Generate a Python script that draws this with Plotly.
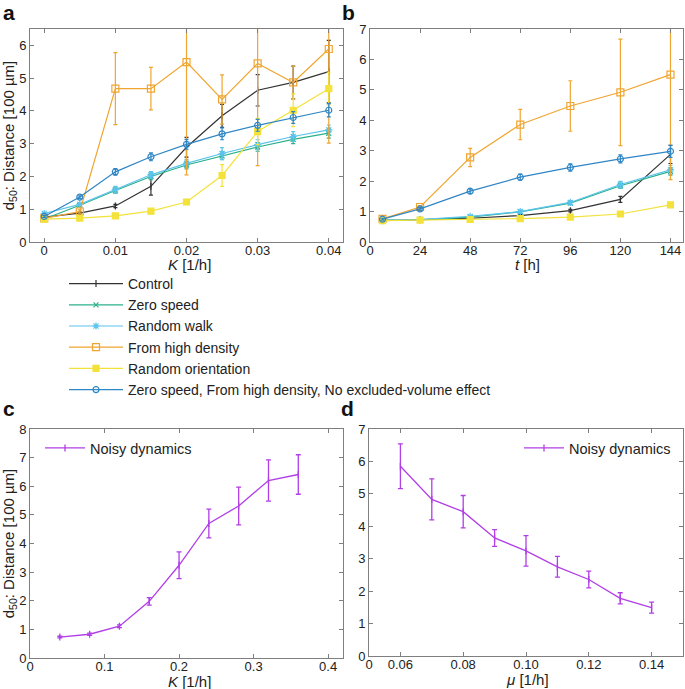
import plotly.graph_objects as go

# ---------------- data ----------------
K_a = [0, 0.005, 0.01, 0.015, 0.02, 0.025, 0.03, 0.035, 0.04]
t_b = [6, 24, 48, 72, 96, 120, 144]

series_names = ["Control", "Zero speed", "Random walk", "From high density",
                "Random orientation",
                "Zero speed, From high density, No excluded-volume effect"]

a_control = [0.76, 0.88, 1.10, 1.70, 2.89, 3.85, 4.63, 4.87, 5.20]
a_control_err = [0.03, 0.03, 0.05, 0.27, 0.30, 0.35, 0.48, 0.50, 0.95]
a_zero = [0.70, 1.12, 1.57, 2.00, 2.35, 2.63, 2.90, 3.13, 3.32]
a_zero_err = [0.03, 0.04, 0.08, 0.10, 0.12, 0.12, 0.13, 0.13, 0.15]
a_rw = [0.87, 1.15, 1.60, 2.05, 2.40, 2.70, 2.97, 3.22, 3.42]
a_rw_err = [0.03, 0.04, 0.10, 0.10, 0.12, 0.18, 0.15, 0.15, 0.15]
a_high = [0.72, 0.93, 4.68, 4.68, 5.49, 4.35, 5.45, 4.87, 5.89]
a_high_err = [0.03, 0.05, 1.10, 0.65, 3.44, 0.75, 3.12, 0.50, 2.87]
a_orient = [0.70, 0.73, 0.80, 0.94, 1.22, 2.03, 3.37, 4.02, 4.68]
a_orient_err = [0.02, 0.02, 0.03, 0.04, 0.06, 0.33, 0.40, 0.50, 0.50]
a_noexcl = [0.78, 1.37, 2.14, 2.60, 2.98, 3.30, 3.56, 3.80, 4.02]
a_noexcl_err = [0.03, 0.04, 0.10, 0.12, 0.15, 0.18, 0.18, 0.18, 0.20]

b_control = [0.70, 0.73, 0.78, 0.87, 1.03, 1.40, 2.88]
b_control_err = [0.02, 0.02, 0.02, 0.03, 0.04, 0.10, 0.30]
b_zero = [0.72, 0.73, 0.82, 0.99, 1.28, 1.85, 2.32]
b_zero_err = [0.02, 0.02, 0.03, 0.04, 0.05, 0.08, 0.12]
b_rw = [0.73, 0.74, 0.84, 1.00, 1.30, 1.89, 2.37]
b_rw_err = [0.02, 0.02, 0.03, 0.04, 0.06, 0.10, 0.15]
b_high = [0.76, 1.15, 2.78, 3.86, 4.47, 4.92, 5.50]
b_high_err = [0.03, 0.05, 0.30, 0.50, 0.83, 1.75, 3.45]
b_orient = [0.70, 0.72, 0.74, 0.77, 0.82, 0.92, 1.22]
b_orient_err = [0.02, 0.02, 0.02, 0.02, 0.03, 0.03, 0.05]
b_noexcl = [0.75, 1.09, 1.67, 2.13, 2.45, 2.73, 2.98]
b_noexcl_err = [0.03, 0.04, 0.07, 0.10, 0.12, 0.13, 0.20]

K_c = [0.04, 0.08, 0.12, 0.16, 0.20, 0.24, 0.28, 0.32, 0.36]
c_noisy = [0.73, 0.83, 1.11, 1.98, 3.24, 4.70, 5.31, 6.20, 6.41]
c_noisy_err = [0.03, 0.04, 0.05, 0.13, 0.47, 0.50, 0.66, 0.72, 0.69]

mu_d = [0.06, 0.07, 0.08, 0.09, 0.10, 0.11, 0.12, 0.13, 0.14]
d_noisy = [5.85, 4.83, 4.45, 3.64, 3.24, 2.75, 2.36, 1.78, 1.49]
d_noisy_err = [0.69, 0.63, 0.50, 0.26, 0.47, 0.32, 0.26, 0.17, 0.17]

ticks_d_vals = [0.05, 0.06, 0.08, 0.10, 0.12, 0.14]
ticks_d_text = ["0", "0.06", "0.08", "0.10", "0.12", "0.14"]

# ---------------- styles ----------------
colors = ["#333333", "#2bb08a", "#5cc3ec", "#f0a531", "#f3e23a", "#2f86c4"]
symbols = ["line-ns-open", "x-thin-open", "asterisk-open", "square-open",
           "square", "circle-open"]
msizes = [5, 5, 6, 7, 6, 6]
purple = "#b13ee6"
FONT = "Liberation Sans, Arial, sans-serif"
AX = "#7f7f7f"

fig = go.Figure()

a_sets = [(a_control, a_control_err), (a_zero, a_zero_err), (a_rw, a_rw_err),
          (a_high, a_high_err), (a_orient, a_orient_err), (a_noexcl, a_noexcl_err)]
b_sets = [(b_control, b_control_err), (b_zero, b_zero_err), (b_rw, b_rw_err),
          (b_high, b_high_err), (b_orient, b_orient_err), (b_noexcl, b_noexcl_err)]

for i, (ys, es) in enumerate(a_sets):
    fig.add_trace(go.Scatter(
        x=K_a, y=ys, mode="lines+markers", name=series_names[i],
        legendgroup=series_names[i], legend="legend",
        line=dict(color=colors[i], width=1.2),
        marker=dict(symbol=symbols[i], size=msizes[i], color=colors[i],
                    line=dict(color=colors[i], width=1.2)),
        error_y=dict(type="data", array=es, color=colors[i], thickness=1.2, width=2),
        xaxis="x", yaxis="y"))
for i, (ys, es) in enumerate(b_sets):
    fig.add_trace(go.Scatter(
        x=t_b, y=ys, mode="lines+markers", name=series_names[i],
        legendgroup=series_names[i], showlegend=False,
        line=dict(color=colors[i], width=1.2),
        marker=dict(symbol=symbols[i], size=msizes[i], color=colors[i],
                    line=dict(color=colors[i], width=1.2)),
        error_y=dict(type="data", array=es, color=colors[i], thickness=1.2, width=2),
        xaxis="x2", yaxis="y2"))

fig.add_trace(go.Scatter(
    x=K_c, y=c_noisy, mode="lines+markers", name="Noisy dynamics", legend="legend2",
    line=dict(color=purple, width=1.3),
    marker=dict(symbol="line-ns-open", size=5, color=purple, line=dict(color=purple, width=1.3)),
    error_y=dict(type="data", array=c_noisy_err, color=purple, thickness=1.3, width=2.5),
    xaxis="x3", yaxis="y3"))
fig.add_trace(go.Scatter(
    x=mu_d, y=d_noisy, mode="lines+markers", name="Noisy dynamics", legend="legend3",
    line=dict(color=purple, width=1.3),
    marker=dict(symbol="line-ns-open", size=5, color=purple, line=dict(color=purple, width=1.3)),
    error_y=dict(type="data", array=d_noisy_err, color=purple, thickness=1.3, width=2.5),
    xaxis="x4", yaxis="y4"))

W, H = 685, 689
def dx(p0, p1):
    return [p0 / W, p1 / W]
def dy(top, bot):
    return [1 - bot / H, 1 - top / H]

axbase = dict(showgrid=False, zeroline=False, showline=True, linecolor=AX, linewidth=1,
              mirror="ticks", ticks="inside", ticklen=4, tickcolor=AX,
              tickfont=dict(family=FONT, size=13, color="#222"), automargin=False)
xtl = dict(ticklabelstandoff=-4)
tfont = dict(family=FONT, size=15, color="#222")
ytitle = "d<sub>50</sub>: Distance [100 µm]"

fig.update_layout(
    width=W, height=H, margin=dict(l=0, r=0, t=0, b=0),
    plot_bgcolor="white", paper_bgcolor="white",
    font=dict(family=FONT, color="#222"),
    xaxis=dict(axbase, **xtl, domain=dx(30, 343), anchor="y", range=[-0.002, 0.042],
               tickvals=[0, 0.01, 0.02, 0.03, 0.04], ticktext=["0", "0.01", "0.02", "0.03", "0.04"]),
    yaxis=dict(axbase, domain=dy(29, 242), anchor="x", range=[0, 6.5], dtick=1,
               title=dict(text=ytitle, font=tfont, standoff=6)),
    xaxis2=dict(axbase, **xtl, domain=dx(370, 683), anchor="y2", range=[0, 150],
                tickvals=[0, 24, 48, 72, 96, 120, 144]),
    yaxis2=dict(axbase, domain=dy(29, 242), anchor="x2", range=[0, 7], dtick=1),
    xaxis3=dict(axbase, **xtl, domain=dx(30, 343), anchor="y3", range=[0, 0.42],
                tickvals=[0, 0.1, 0.2, 0.3, 0.4], ticktext=["0", "0.1", "0.2", "0.3", "0.4"]),
    yaxis3=dict(axbase, domain=dy(429, 658), anchor="x3", range=[0, 8], dtick=1,
                title=dict(text=ytitle, font=tfont, standoff=6)),
    xaxis4=dict(axbase, **xtl, domain=dx(369, 683), anchor="y4", range=[0.05, 0.15],
                tickvals=ticks_d_vals, ticktext=ticks_d_text),
    yaxis4=dict(axbase, domain=dy(429, 656), anchor="x4", range=[0, 7], dtick=1),
    legend=dict(x=64 / W, y=1 - 268 / H, xanchor="left", yanchor="top",
                font=dict(family=FONT, size=14, color="#222"), itemwidth=54,
                bgcolor="rgba(0,0,0,0)", tracegroupgap=0),
    legend2=dict(x=40 / W, y=1 - 432 / H, xanchor="left", yanchor="top",
                 font=dict(family=FONT, size=14.5, color="#222"), itemwidth=40,
                 bgcolor="rgba(0,0,0,0)"),
    legend3=dict(x=676 / W, y=1 - 432 / H, xanchor="right", yanchor="top",
                 font=dict(family=FONT, size=14.5, color="#222"), itemwidth=40,
                 bgcolor="rgba(0,0,0,0)"),
    showlegend=True,
)

# x-axis titles
for txt, xc, yc in [("<i>K</i> [1/h]", 189, 264), ("<i>t</i> [h]", 527, 264),
                    ("<i>K</i> [1/h]", 189, 681), ("<i>μ</i> [1/h]", 527, 679)]:
    fig.add_annotation(text=txt, xref="paper", yref="paper", x=xc / W, y=1 - yc / H,
                       xanchor="center", yanchor="middle", showarrow=False, font=tfont)

for txt, xp, yp in [("a", 2, 0), ("b", 341, 0), ("c", 2, 396), ("d", 340, 396)]:
    fig.add_annotation(text="<b>%s</b>" % txt, xref="paper", yref="paper",
                       x=xp / W, y=1 - yp / H, xanchor="left", yanchor="top",
                       showarrow=False, borderpad=0,
                       font=dict(family=FONT, size=21, color="#111"))

fig.write_html("out.html", config={"displayModeBar": False},
               post_script="document.body.style.margin='0';document.body.style.padding='0';"
                           "document.body.style.overflow='hidden';")
